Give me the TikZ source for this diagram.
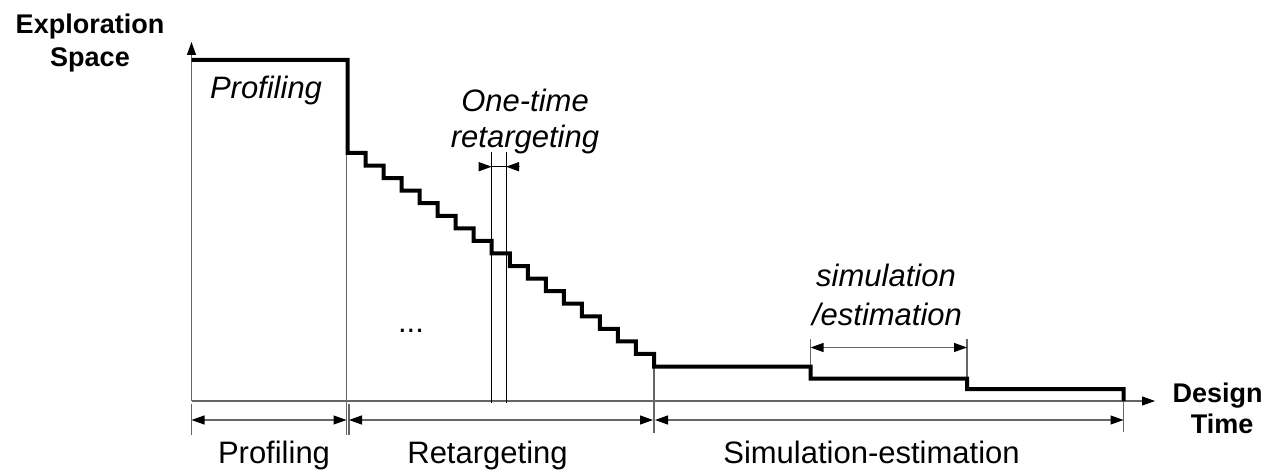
\documentclass[tikz,border=0pt]{standalone}
\usepackage{fontspec}
\setmainfont{Liberation Sans}
\usetikzlibrary{arrows.meta}

\tikzset{
  thinline/.style={line width=1.1pt, draw=black!60},
  fineline/.style={line width=0.9pt, draw=black},
  curve/.style={line width=4pt, draw=black},
  tip/.style={-{Triangle[length=13pt,width=9pt,black]}},
  dimline/.style={thinline, {Triangle[length=13pt,width=9pt,black]}-{Triangle[length=13pt,width=9pt,black]}},
  lbl/.style={font=\fontsize{31pt}{34pt}\selectfont, anchor=base, inner sep=0pt},
  ilbl/.style={lbl, font=\fontsize{31pt}{34pt}\selectfont\itshape},
  axlbl/.style={font=\fontsize{27pt}{30pt}\selectfont\bfseries, anchor=base, inner sep=0pt}
}

\begin{document}
\begin{tikzpicture}[x=1pt, y=-1pt]
\useasboundingbox (0,0) rectangle (1268,470);

% key positions along the time axis
\coordinate (O)   at (191.5,401);
\coordinate (ytop) at (191.5,42);
\coordinate (xend) at (1155,401);

% axes
\draw[thinline, tip] (O) -- (ytop);
\draw[thinline, tip] (O) -- (xend);

% extension lines below the axis
\draw[thinline] (191.5,404) -- (191.5,435);
\draw[thinline] (346.5,153) -- (346.5,435);
\draw[thinline] (349,404) -- (349,435);
\draw[thinline] (654,366.5) -- (654,433);
\draw[thinline] (1123.5,401) -- (1123.5,432);

% phase dimensions
\draw[dimline] (191.5,420) -- (346.5,420);
\draw[dimline] (349,420) -- (653,420);
\draw[dimline] (655,420) -- (1123.5,420);

% one-time retargeting marks
\coordinate (ot1) at (491.7,152);
\coordinate (ot2) at (506,152);
\draw[fineline] (ot1) -- (491.7,403);
\draw[fineline] (ot2) -- (506,403);
\draw[fineline] (491.7,166.7) -- (506,166.7);
\draw[thinline, tip] (478.7,166.7) -- (491.7,166.7);
\draw[thinline, tip] (519,166.7) -- (506,166.7);

% simulation/estimation marks
\draw[thinline] (810.5,339) -- (810.5,366.5);
\draw[thinline] (967,339) -- (967,378.5);
\draw[dimline] (810.5,347.5) -- (967,347.5);

% exploration space over design time
\draw[curve] (191.5,60) -- (347.5,60) -- (347.5,153)
  \foreach \k in {1,...,17} {
    -- ({347.5+\k*18.03},{153+(\k-1)*12.56})
    -- ({347.5+\k*18.03},{153+\k*12.56})
  }
  -- (810.5,366.5) -- (810.5,378.5) -- (967,378.5) -- (967,389)
  -- (1123.5,389) -- (1123.5,401);

% labels
\node[axlbl] (ylab1) at (90,34) {Exploration};
\node[axlbl] (ylab2) at (90,67) {Space};
\node[axlbl] (xlab1) at (1217.5,402) {Design};
\node[axlbl] (xlab2) at (1222,433) {Time};

\node[ilbl] (prof) at (266,98.5) {Profiling};
\node[ilbl] (one1) at (525,112) {One-time};
\node[ilbl] (one2) at (525,147.5) {retargeting};
\node[ilbl] (sim1) at (886,287) {simulation};
\node[ilbl] (sim2) at (887,325) {/estimation};
\node[lbl] (dots) at (411,332) {...};

\node[lbl] (bprof) at (274,463) {Profiling};
\node[lbl] (bret) at (487.5,463) {Retargeting};
\node[lbl] (bsim) at (871.5,463) {Simulation-estimation};
\end{tikzpicture}
\end{document}
